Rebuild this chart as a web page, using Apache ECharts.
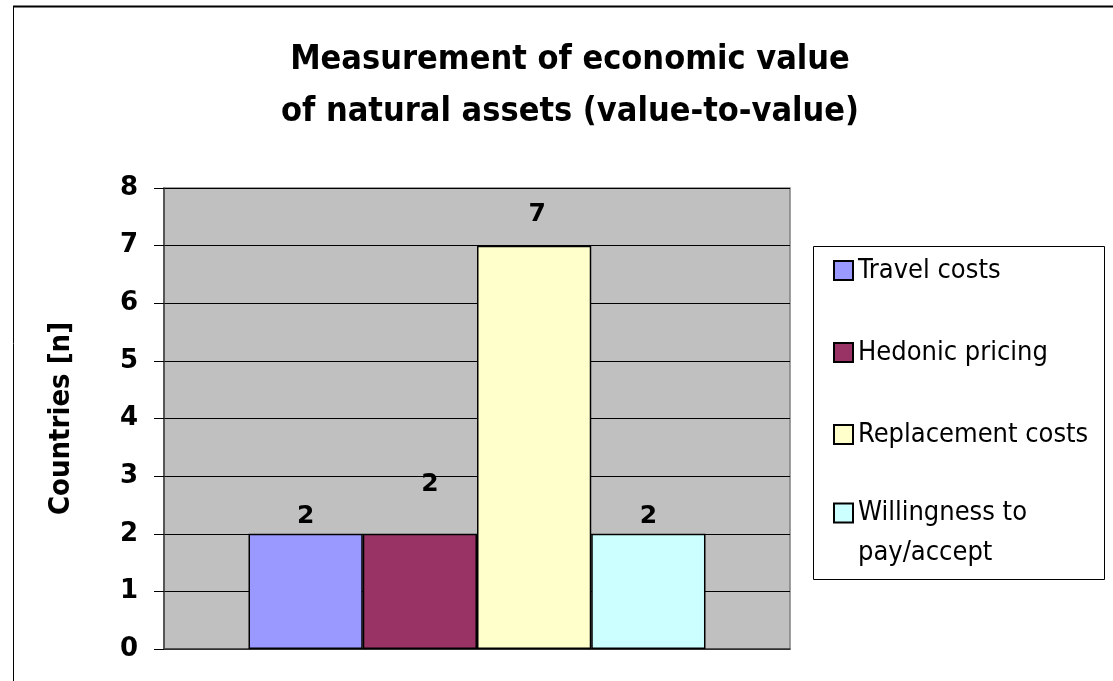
<!DOCTYPE html>
<html>
<head>
<meta charset="utf-8">
<script src="https://cdn.jsdelivr.net/npm/echarts@6/dist/echarts.min.js"></script>
<style>
html,body{margin:0;padding:0;background:#fff;}
#chart{width:1113px;height:681px;}
</style>
</head>
<body>
<div id="chart"></div>
<script>
const titleLines = ['Measurement of economic value', 'of natural assets (value-to-value)'];
const categories = [''];
const seriesNames = ['Travel costs', 'Hedonic pricing', 'Replacement costs', 'Willingness to\npay/accept'];
const seriesValues = [[2], [2], [7], [2]];
const seriesColors = ['#9999FF', '#993366', '#FFFFCC', '#CCFFFF'];
const labelOffsets = [[0, 0], [10, -32], [3, -14], [0, 0]];
const yAxisName = 'Countries [n]';
const yMin = 0, yMax = 8, yInterval = 1;

const FONT = "'DejaVu Sans Condensed', 'DejaVu Sans', sans-serif";
const NUMFONT = "'DejaVu Sans', sans-serif";

const chart = echarts.init(document.getElementById('chart'), null, {renderer: 'canvas'});

const series = seriesNames.map((name, i) => ({
  name: name,
  type: 'bar',
  data: seriesValues[i],
  barGap: '0%',
  barCategoryGap: '27%',
  itemStyle: {color: seriesColors[i], borderColor: '#000', borderWidth: 1.5},
  label: {
    show: true, position: 'top', distance: 5,
    offset: labelOffsets[i],
    fontFamily: NUMFONT, fontWeight: 'bold', fontSize: 25, color: '#000'
  },
  emphasis: {disabled: true}
}));

const legendText = {fontFamily: FONT, fontSize: 27, color: '#000'};

const option = {
  animation: false,
  backgroundColor: '#fff',
  title: {
    text: titleLines.join('\n'),
    left: 565, top: 29, textAlign: 'center',
    textStyle: {fontFamily: FONT, fontWeight: 'bold', fontSize: 34, lineHeight: 52, color: '#000'}
  },
  grid: {
    left: 164, right: 323, top: 188, bottom: 32,
    show: true, backgroundColor: '#C0C0C0', borderColor: '#808080', borderWidth: 1.5
  },
  legend: [
    {
      orient: 'vertical', left: 833, top: 257, padding: 0,
      itemWidth: 19, itemHeight: 19, itemGap: 55,
      icon: 'rect',
      data: seriesNames.slice(0, 3),
      textStyle: legendText,
      selectedMode: false
    },
    {
      orient: 'vertical', left: 833, top: 453, padding: 0,
      itemWidth: 19, itemHeight: 19,
      icon: 'rect',
      data: seriesNames.slice(3),
      formatter: name => '\n' + name,
      textStyle: Object.assign({}, legendText, {lineHeight: 40}),
      selectedMode: false
    }
  ],
  xAxis: {
    type: 'category', data: categories,
    axisLine: {show: true, lineStyle: {color: '#404040', width: 1.5}},
    axisTick: {show: false}, axisLabel: {show: false}, splitLine: {show: false}
  },
  yAxis: {
    type: 'value', min: yMin, max: yMax, interval: yInterval,
    name: yAxisName, nameLocation: 'middle', nameGap: 88,
    nameTextStyle: {fontFamily: FONT, fontWeight: 'bold', fontSize: 29, color: '#000'},
    axisLine: {show: true, lineStyle: {color: '#404040', width: 1.5}},
    axisTick: {show: true, length: 10, lineStyle: {color: '#000'}},
    axisLabel: {margin: 26, fontFamily: NUMFONT, fontWeight: 'bold', fontSize: 26, color: '#000'},
    splitLine: {show: true, lineStyle: {color: '#000', width: 1}}
  },
  graphic: [
    {type: 'line', shape: {x1: 13, y1: 6.5, x2: 1113, y2: 6.5}, style: {stroke: '#000', lineWidth: 2}, silent: true},
    {type: 'line', shape: {x1: 13.5, y1: 6, x2: 13.5, y2: 681}, style: {stroke: '#000', lineWidth: 1}, silent: true},
    {type: 'rect', shape: {x: 813.5, y: 246.5, width: 291, height: 333}, style: {fill: null, stroke: '#000', lineWidth: 1}, silent: true, z: -1}
  ],
  series: series
};

chart.setOption(option);
</script>
</body>
</html>
